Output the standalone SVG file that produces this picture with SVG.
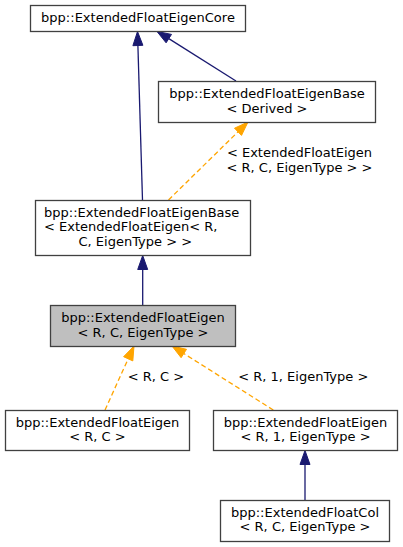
<svg xmlns="http://www.w3.org/2000/svg" width="403" height="547" viewBox="0 0 403 547">
<style>
text{font-family:"DejaVu Sans","Liberation Sans",sans-serif;font-size:13px;fill:#000}
.m{text-anchor:middle}
.box{fill:#fff;stroke:#404040;stroke-width:1.3}
.hl{fill:#bfbfbf;stroke:#404040;stroke-width:1.3}
.inh{fill:none;stroke:#191970;stroke-width:1.3}
.tpl{fill:none;stroke:#ffa500;stroke-width:1.3;stroke-dasharray:5,3}
.ah{fill:#191970;stroke:#191970}
.ao{fill:#ffa500;stroke:#ffa500}
</style>
<rect width="403" height="547" fill="#fff"/>
<g id="edges">
<path class="inh" d="M142.5,200 L137.9,45.5"/>
<polygon class="ah" points="137.5,31.5 142.9,45.3 132.9,45.7"/>
<path class="inh" d="M236,81 L168.8,38.6"/>
<polygon class="ah" points="157,31.5 171.5,34.4 166.1,42.8"/>
<path class="tpl" d="M168.5,200 L238,131.8"/>
<polygon class="ao" points="248,122 241.5,135.4 234.5,128.2"/>
<text class="m" x="299.5" y="156.5">&lt; ExtendedFloatEigen</text>
<text class="m" x="299.5" y="171.5">&lt; R, C, EigenType &gt; &gt;</text>
<path class="inh" d="M142.7,305 L142.7,269.5"/>
<polygon class="ah" points="142.7,255.5 147.7,269.5 137.7,269.5"/>
<path class="tpl" d="M105,410 L128.2,358.8"/>
<polygon class="ao" points="134,346 132.8,360.9 123.6,356.7"/>
<text class="m" x="156" y="380.5">&lt; R, C &gt;</text>
<path class="tpl" d="M273.3,410 L183.8,353.5"/>
<polygon class="ao" points="172,346 186.5,349.3 181.1,357.7"/>
<text class="m" x="303.3" y="380.5">&lt; R, 1, EigenType &gt;</text>
<path class="inh" d="M305,500.5 L305,464.5"/>
<polygon class="ah" points="305,450.5 310,464.5 300,464.5"/>
</g>
<g id="node1">
<rect class="box" x="30.5" y="5.5" width="215" height="26"/>
<text class="m" x="138" y="22">bpp::ExtendedFloatEigenCore</text>
</g>
<g id="node2">
<rect class="box" x="158.5" y="81.5" width="217" height="41"/>
<text class="m" x="267" y="98">bpp::ExtendedFloatEigenBase</text>
<text class="m" x="267" y="112.5">&lt; Derived &gt;</text>
</g>
<g id="node3">
<rect class="box" x="35.5" y="200.5" width="215" height="55"/>
<text x="44" y="216.5">bpp::ExtendedFloatEigenBase</text>
<text x="44" y="231">&lt; ExtendedFloatEigen&lt; R,</text>
<text x="78.5" y="245.5">C, EigenType &gt; &gt;</text>
</g>
<g id="node4">
<rect class="hl" x="50.5" y="305.5" width="185" height="41"/>
<text class="m" x="143" y="322">bpp::ExtendedFloatEigen</text>
<text class="m" x="143" y="336.5">&lt; R, C, EigenType &gt;</text>
</g>
<g id="node5">
<rect class="box" x="5.5" y="410.5" width="184" height="40"/>
<text class="m" x="97.5" y="426.5">bpp::ExtendedFloatEigen</text>
<text class="m" x="97.5" y="441">&lt; R, C &gt;</text>
</g>
<g id="node6">
<rect class="box" x="213.5" y="410.5" width="184" height="40"/>
<text class="m" x="305.5" y="426.5">bpp::ExtendedFloatEigen</text>
<text class="m" x="305.5" y="441">&lt; R, 1, EigenType &gt;</text>
</g>
<g id="node7">
<rect class="box" x="220.5" y="500.5" width="169" height="41"/>
<text class="m" x="305" y="516.5">bpp::ExtendedFloatCol</text>
<text class="m" x="305" y="531">&lt; R, C, EigenType &gt;</text>
</g>
</svg>
